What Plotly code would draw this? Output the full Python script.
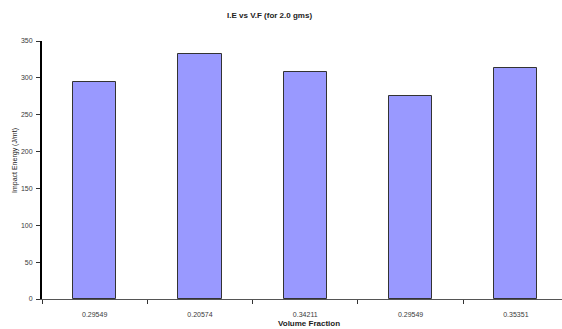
import plotly.graph_objects as go

# Volume fraction samples (category labels) and measured impact energy
volume_fraction = ["0.29549", "0.20574", "0.34211", "0.29549", "0.35351"]
impact_energy = [294, 333, 308, 275, 313]
y_ticks = [0, 50, 100, 150, 200, 250, 300, 350]

positions = list(range(len(volume_fraction)))

W, H = 562, 329
ML, MR, MT, MB = 42, 0, 41, 30

fig = go.Figure()
fig.add_trace(go.Bar(
    x=positions,
    y=impact_energy,
    width=0.41,
    marker=dict(color="#9999FF", line=dict(color="#333333", width=1)),
    showlegend=False,
))

tick_font = dict(family="Liberation Sans, Arial", size=7, color="#3a3a3a")


def page_to_paper(px, py):
    """Convert page pixel coordinates into plot-area paper fractions."""
    pw = W - ML - MR
    ph = H - MT - MB
    return (px - ML) / pw, (H - MB - py) / ph


def label(text, px, py, size, angle=0):
    x, y = page_to_paper(px, py)
    return dict(text=text, x=x, y=y, xref="paper", yref="paper",
                xanchor="center", yanchor="middle", showarrow=False,
                textangle=angle,
                font=dict(family="Liberation Sans, Arial", size=size, color="#222222"))


fig.update_layout(
    width=W,
    height=H,
    margin=dict(l=ML, r=MR, t=MT, b=MB),
    plot_bgcolor="white",
    paper_bgcolor="white",
    bargap=0,
    xaxis=dict(
        range=[-0.5, 4.438],
        tickmode="array",
        tickvals=positions,
        ticktext=volume_fraction,
        ticks="",
        ticklabelstandoff=9,
        tickfont=tick_font,
        showline=True,
        linecolor="#555555",
        linewidth=1,
        showgrid=False,
        zeroline=False,
        minor=dict(ticks="outside", tickmode="linear", tick0=0.5, dtick=1,
                   ticklen=4, tickcolor="#333333", tickwidth=1, showgrid=False),
    ),
    yaxis=dict(
        range=[0, 350],
        tickmode="array",
        tickvals=y_ticks,
        ticks="outside",
        ticklen=4,
        tickcolor="#333333",
        ticklabelstandoff=2,
        tickfont=tick_font,
        showline=True,
        linecolor="black",
        linewidth=2,
        showgrid=False,
        zeroline=False,
    ),
    annotations=[
        label("<b>I.E vs V.F (for 2.0 gms)</b>", 269, 15, 8),
        label("<b>Volume Fraction</b>", 309, 323, 8),
        label("Impact Energy (J/mt)", 15, 161, 7, angle=-90),
    ],
)

fig.write_html("out.html")
